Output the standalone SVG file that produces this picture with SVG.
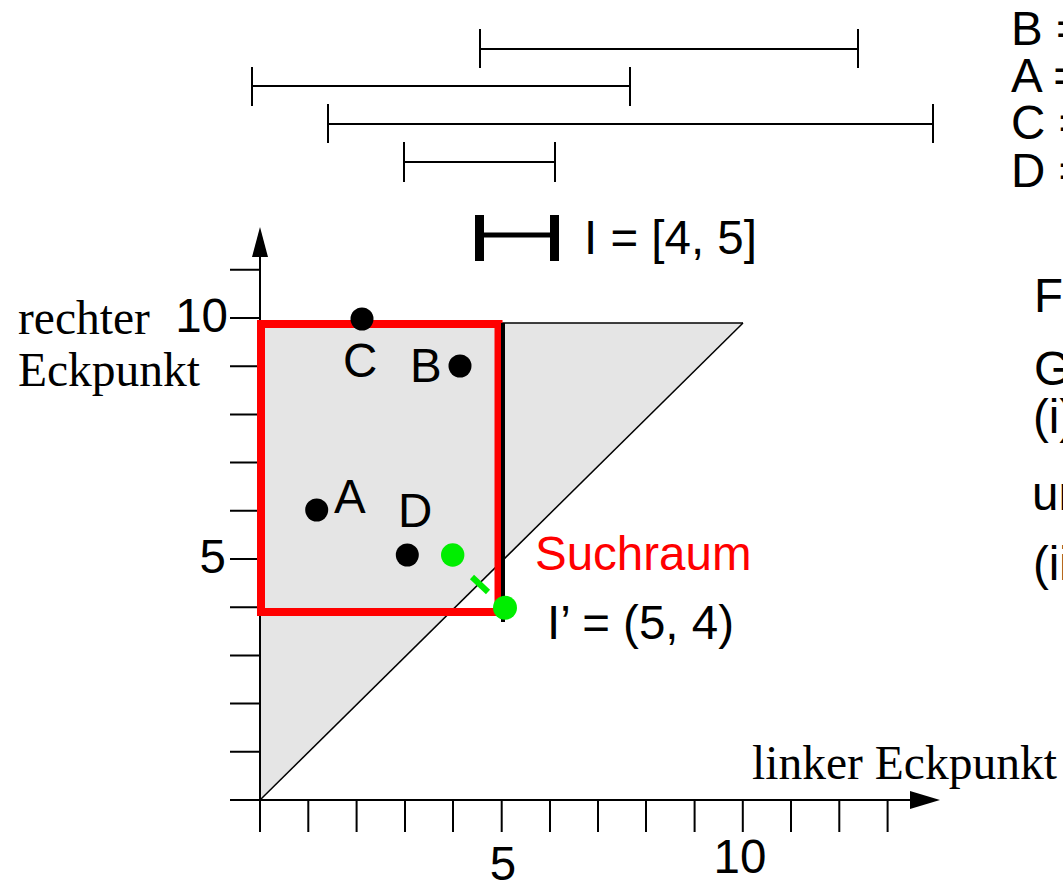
<svg xmlns="http://www.w3.org/2000/svg" width="1063" height="883" viewBox="0 0 1063 883">
<style>
.s{font-family:"Liberation Sans",Arial,sans-serif;font-size:47.5px;fill:#000}
.r{font-family:"Liberation Serif","Times New Roman",serif;font-size:47.5px;fill:#000}
.ln{stroke:#000;stroke-width:2;fill:none}
.dot{fill:#000}
.g{fill:#00ee00}
</style>
<rect width="1063" height="883" fill="#fff"/>
<g id="region">
<polygon points="260,800 260,323 743,323" fill="#e5e5e5"/>
<line x1="260" y1="800" x2="743" y2="323" stroke="#000" stroke-width="1.5"/>
<line x1="500" y1="323" x2="743" y2="323" stroke="#000" stroke-width="1.5"/>
</g>
<g id="axes">
<line class="ln" x1="230" y1="800" x2="912" y2="800"/>
<polygon points="940,800 910,791 910,809" fill="#000"/>
<line class="ln" x1="260" y1="832" x2="260" y2="255"/>
<polygon points="260,227 252,257 268,257" fill="#000"/>
<path class="ln" d="M308.3,800V832M356.6,800V832M405,800V832M453,800V832M501.7,800V832M550,800V832M598,800V832M646,800V832M694.6,800V832M742.8,800V832M791,800V832M839.3,800V832M887.6,800V832"/>
<path class="ln" d="M230,751.8H260M230,703.6H260M230,655.4H260M230,607.2H260M230,559H260M230,510.8H260M230,462.6H260M230,414.4H260M230,366.2H260M230,318H260M230,269.8H260"/>
<text class="s" x="503" y="880" text-anchor="middle">5</text>
<text class="s" x="740" y="873" text-anchor="middle">10</text>
<text class="s" x="228" y="332" text-anchor="end">10</text>
<text class="s" x="226" y="573" text-anchor="end">5</text>
<text class="r" x="18" y="334">rechter</text>
<text class="r" x="18" y="386">Eckpunkt</text>
<text class="r" x="752" y="779" textLength="305">linker Eckpunkt</text>
</g>
<g id="suchraum">
<rect x="261" y="324" width="237.5" height="288" fill="none" stroke="#ff0000" stroke-width="8"/>
<line x1="503" y1="323" x2="503" y2="622" stroke="#000" stroke-width="4"/>
<text x="535" y="570" font-family="Liberation Sans, Arial, sans-serif" font-size="47.5" fill="#ff0000">Suchraum</text>
</g>
<g id="point-C"><circle class="dot" cx="362" cy="319" r="11.5"/><text class="s" x="343" y="377">C</text></g>
<g id="point-B"><circle class="dot" cx="460" cy="366" r="11.5"/><text class="s" x="410" y="382">B</text></g>
<g id="point-A"><circle class="dot" cx="316.7" cy="510" r="11.5"/><text class="s" x="334" y="513">A</text></g>
<g id="point-D"><circle class="dot" cx="407.3" cy="555" r="11.5"/><text class="s" x="398" y="527">D</text></g>
<g id="connectors">
<line x1="472" y1="577" x2="488" y2="592" stroke="#00ee00" stroke-width="6"/>
</g>
<g id="point-I"><circle class="g" cx="452.7" cy="555" r="11.7"/></g>
<g id="point-I2"><circle class="g" cx="505" cy="607.7" r="12"/>
<text class="s" x="547" y="639">I&#8217; = (5, 4)</text></g>
<g id="interval-I">
<rect x="475" y="215" width="9" height="46" fill="#000"/>
<rect x="550" y="215" width="9" height="46" fill="#000"/>
<rect x="484" y="232.5" width="66" height="5" fill="#000"/>
<text class="s" x="584" y="254">I = [4, 5]</text>
</g>
<g id="intervals">
<path class="ln" d="M480,49H858M480,29V68M858,29V68"/>
<path class="ln" d="M252,86H630M252,67V106M630,67V106"/>
<path class="ln" d="M328,124H933M328,104V143M933,104V143"/>
<path class="ln" d="M404,162H555M404,142V182M555,142V182"/>
</g>
<g id="legend">
<text class="s" x="1011" y="45">B =</text>
<text class="s" x="1011" y="92">A =</text>
<text class="s" x="1011" y="139">C =</text>
<text class="s" x="1011" y="187">D =</text>
<text class="s" x="1034" y="312">F</text>
<text class="s" x="1034" y="385">G</text>
<text class="s" x="1033" y="433">(i)</text>
<text class="s" x="1032" y="510">un</text>
<text class="s" x="1033" y="580">(ii</text>
</g>
</svg>
